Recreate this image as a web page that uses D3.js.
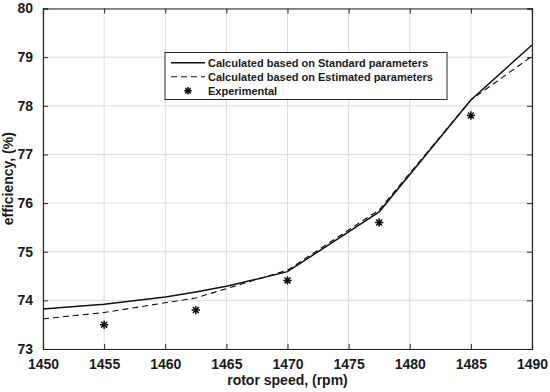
<!DOCTYPE html>
<html>
<head>
<meta charset="utf-8">
<script src="https://cdn.jsdelivr.net/npm/d3@7"></script>
<style>
  body { margin: 0; background: #fff; }
  text { font-family: "Liberation Sans", Arial, sans-serif; font-weight: bold; fill: #1a1a1a; }
</style>
</head>
<body>
<div id="chart"></div>
<script>
// values
let speed = [1450, 1455, 1460, 1462.5, 1465, 1470, 1477.5, 1485, 1490];
let standardEff = [73.82, 73.92, 74.07, 74.17, 74.29, 74.59, 75.82, 78.12, 79.25];
let estimatedEff = [73.62, 73.75, 73.95, 74.05, 74.24, 74.62, 75.86, 78.12, 79.02];
let expSpeed = [1455, 1462.5, 1470, 1477.5, 1485];
let expEff = [73.5, 73.8, 74.41, 75.6, 77.8];
let xTicks = [1450, 1455, 1460, 1465, 1470, 1475, 1480, 1485, 1490];
let yTicks = [73, 74, 75, 76, 77, 78, 79, 80];
let legendLabels = ["Calculated based on Standard parameters", "Calculated based on Estimated parameters", "Experimental"];

let W = 550, H = 392;
let margin = { top: 8.5, right: 18, bottom: 43, left: 43 };
let w = W - margin.left - margin.right;
let h = H - margin.top - margin.bottom;

var svg = d3.select("#chart").append("svg")
  .attr("width", W)
  .attr("height", H);

var g = svg.append("g").attr("transform", "translate(" + margin.left + "," + margin.top + ")");

var x = d3.scaleLinear().domain([1450, 1490]).range([0, w]);
var y = d3.scaleLinear().domain([73, 80]).range([h, 0]);

// grid
g.append("g").selectAll("line").data(xTicks).enter().append("line")
  .attr("x1", d => x(d)).attr("x2", d => x(d))
  .attr("y1", 0).attr("y2", h)
  .attr("stroke", "#dcdcdc").attr("stroke-width", 1);
g.append("g").selectAll("line").data(yTicks).enter().append("line")
  .attr("x1", 0).attr("x2", w)
  .attr("y1", d => y(d)).attr("y2", d => y(d))
  .attr("stroke", "#dcdcdc").attr("stroke-width", 1);

// axes (ticks pointing inward)
var xAxis = g.append("g").attr("transform", "translate(0," + h + ")")
  .call(d3.axisBottom(x).tickValues(xTicks).tickSize(-5).tickPadding(10).tickFormat(d3.format("d")));
var xTop = g.append("g")
  .call(d3.axisTop(x).tickValues(xTicks).tickSize(-5).tickFormat(""));
var yAxis = g.append("g")
  .call(d3.axisLeft(y).tickValues(yTicks).tickSize(-5).tickPadding(10).tickFormat(d3.format("d")));
var yRight = g.append("g").attr("transform", "translate(" + w + ",0)")
  .call(d3.axisRight(y).tickValues(yTicks).tickSize(-5).tickFormat(""));

[xAxis, xTop, yAxis, yRight].forEach(a => {
  a.select(".domain").attr("stroke", "#262626").attr("stroke-width", 1.2);
  a.selectAll(".tick line").attr("stroke", "#262626");
  a.selectAll("text").style("font-size", "14px").style("font-weight", "bold").attr("fill", "#1a1a1a");
});

// lines
var line = d3.line().x(d => x(d[0])).y(d => y(d[1]));
g.append("path")
  .datum(d3.zip(speed, standardEff))
  .attr("d", line).attr("fill", "none")
  .attr("stroke", "#111").attr("stroke-width", 1.5);
g.append("path")
  .datum(d3.zip(speed, estimatedEff))
  .attr("d", line).attr("fill", "none")
  .attr("stroke", "#111").attr("stroke-width", 1.1)
  .attr("stroke-dasharray", "6,4");

// asterisk marker like matlab '*'
function star(r) {
  let d = r * 0.7071;
  return "M" + (-r) + ",0L" + r + ",0M0," + (-r) + "L0," + r +
    "M" + (-d) + "," + (-d) + "L" + d + "," + d + "M" + (-d) + "," + d + "L" + d + "," + (-d);
}
g.append("g").selectAll("path").data(d3.zip(expSpeed, expEff)).enter().append("path")
  .attr("transform", d => "translate(" + x(d[0]) + "," + y(d[1]) + ")")
  .attr("d", star(4.2))
  .attr("stroke", "#111").attr("stroke-width", 1.5).attr("fill", "none");

// axis labels
svg.append("text")
  .attr("x", margin.left + w / 2).attr("y", 385)
  .attr("text-anchor", "middle")
  .style("font-size", "14px")
  .text("rotor speed, (rpm)");
svg.append("text")
  .attr("transform", "translate(13," + (margin.top + h / 2) + ") rotate(-90)")
  .attr("text-anchor", "middle")
  .style("font-size", "14px")
  .text("efficiency, (%)");

// legend
var lg = svg.append("g");
lg.append("rect")
  .attr("x", 165).attr("y", 52.5).attr("width", 282).attr("height", 47)
  .attr("fill", "#fff").attr("stroke", "#262626").attr("stroke-width", 1);
var rowY = [62.7, 76.7, 90.7];
lg.append("line").attr("x1", 171).attr("x2", 205).attr("y1", rowY[0]).attr("y2", rowY[0])
  .attr("stroke", "#111").attr("stroke-width", 1.5);
lg.append("line").attr("x1", 171).attr("x2", 205).attr("y1", rowY[1]).attr("y2", rowY[1])
  .attr("stroke", "#111").attr("stroke-width", 1.1).attr("stroke-dasharray", "6,4");
lg.append("path").attr("transform", "translate(188," + rowY[2] + ")")
  .attr("d", star(3.8)).attr("stroke", "#111").attr("stroke-width", 1.5);
lg.selectAll("text.leg").data(legendLabels).enter().append("text")
  .attr("class", "leg")
  .attr("x", 208).attr("y", (d, i) => rowY[i])
  .attr("dy", "0.35em")
  .style("font-size", "11px")
  .text(d => d);
</script>
</body>
</html>
